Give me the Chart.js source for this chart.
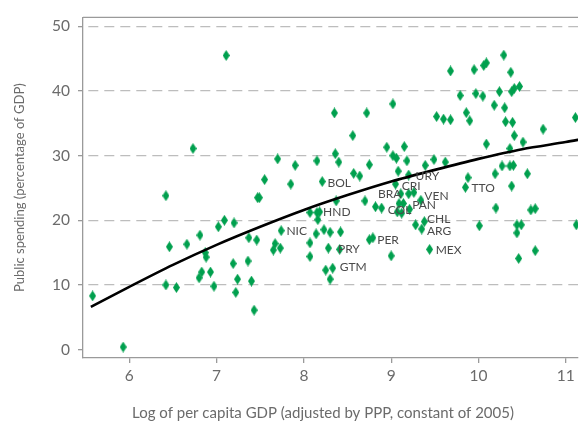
<!DOCTYPE html>
<html>
<head>
<meta charset="utf-8">
<script src="https://cdn.jsdelivr.net/npm/chart.js@4"></script>
<style>
  html, body { margin: 0; padding: 0; background: #fff; }
  #wrap { width: 584px; height: 425px; }
</style>
</head>
<body>
<div id="wrap"><canvas id="chart"></canvas></div>
<script>
// log of per capita GDP (x) and public spending % of GDP (y)
var gdpLog = [
    5.58, 5.93, 6.42, 6.46, 6.54, 6.66, 6.81, 6.80, 6.83, 6.87,
    6.88, 6.93, 6.97, 7.02, 7.09, 7.20, 7.19, 7.22, 7.24, 7.36,
    7.37, 7.40, 7.43, 7.46, 7.65, 7.67, 7.73, 7.74, 7.11, 6.73,
    6.42, 7.47, 7.49, 7.55, 7.70, 7.85, 7.90, 8.56, 8.15, 8.36,
    8.40, 8.75, 8.21, 8.57, 8.64, 8.37, 8.70, 8.82, 8.07, 8.15,
    8.18, 8.16, 8.14, 8.23, 8.30, 8.42, 8.07, 8.28, 8.41, 8.75,
    8.79, 8.07, 8.25, 8.33, 8.30, 8.89, 9.28, 9.35, 9.38, 9.44,
    10.01, 10.20, 10.44, 10.49, 10.44, 10.46, 10.65, 10.60, 10.65, 11.12,
    9.00, 8.95, 9.15, 9.02, 9.06, 9.18, 9.08, 9.20, 9.39, 9.49,
    9.62, 10.09, 9.88, 9.85, 9.05, 9.11, 9.20, 9.26, 9.34, 9.09,
    9.14, 9.07, 9.12, 9.21, 8.35, 8.72, 9.02, 9.52, 9.60, 9.68,
    9.86, 9.90, 9.79, 9.97, 10.05, 9.68, 9.95, 10.06, 10.09, 10.29,
    10.37, 10.24, 10.38, 10.41, 10.47, 10.18, 10.30, 10.31, 10.39, 10.41,
    10.51, 10.74, 11.11, 10.36, 10.27, 10.36, 10.40, 10.19, 10.38, 10.56
];
var spending = [
    8.3, 0.4, 10.0, 15.9, 9.6, 16.3, 17.7, 11.1, 12.0, 15.0,
    14.3, 12.0, 9.8, 19.0, 20.0, 19.6, 13.3, 8.85, 10.9, 13.7,
    17.3, 10.6, 6.1, 16.95, 15.4, 16.4, 15.7, 18.4, 45.5, 31.1,
    23.8, 23.5, 23.5, 26.3, 29.5, 25.6, 28.5, 33.1, 29.2, 30.3,
    29.0, 28.6, 26.0, 27.25, 26.85, 23.0, 23.0, 22.1, 21.2, 21.2,
    21.3, 20.1, 17.9, 18.55, 18.15, 18.2, 16.5, 15.7, 15.5, 17.0,
    17.3, 14.4, 12.3, 12.6, 10.9, 21.9, 19.3, 18.65, 19.8, 15.5,
    19.15, 21.9, 19.3, 19.3, 18.05, 14.1, 15.3, 21.6, 21.8, 19.3,
    14.5, 31.3, 31.4, 30.0, 29.6, 29.2, 27.6, 27.0, 28.5, 29.4,
    29.0, 31.8, 26.6, 25.1, 25.6, 24.1, 24.1, 24.3, 23.1, 22.6,
    22.6, 21.3, 21.1, 21.7, 36.6, 36.6, 38.0, 36.05, 35.65, 35.55,
    36.65, 35.4, 39.3, 39.6, 39.2, 43.1, 43.3, 43.95, 44.35, 45.55,
    42.9, 39.9, 39.9, 40.4, 40.7, 37.8, 37.4, 35.25, 35.15, 33.1,
    32.1, 34.1, 35.9, 31.1, 28.4, 28.4, 28.5, 27.2, 25.3, 27.2
];

// fitted curve
var curveX = [5.56, 6.0, 6.5, 7.0, 7.5, 8.0, 8.5, 9.0, 9.5, 10.0, 10.5, 11.0, 11.2];
var curveY = [6.6, 9.7, 13.1, 16.2, 19.0, 21.6, 23.9, 26.0, 27.8, 29.5, 31.0, 32.1, 32.6];

// country labels (data coordinates of each label)
var countryCodes = ["BOL", "HND", "NIC", "PRY", "GTM", "PER", "COL", "PAN", "BRA", "CRI", "URY", "VEN", "TTO", "CHL", "ARG", "MEX"];
var labelX = [8.27, 8.22, 7.80, 8.39, 8.41, 8.84, 8.96, 9.24, 8.85, 9.12, 9.28, 9.38, 9.92, 9.41, 9.41, 9.51];
var labelY = [25.7, 21.3, 18.3, 15.5, 12.7, 16.95, 21.5, 22.3, 24.1, 25.3, 26.85, 23.7, 24.95, 20.2, 18.3, 15.4];

var xTicks = [6, 7, 8, 9, 10, 11];
var yTicks = [0, 10, 20, 30, 40, 50];

var xTitle = "Log of per capita GDP (adjusted by PPP, constant of 2005)";
var yTitle = "Public spending (percentage of GDP)";

const fontFamily = "Lato";
const green = "#00a04e";
const axisGray = "#9a9a9a";
const textGray = "#6b6b6b";

function makeDiamond(w, h, color) {
    let c = document.createElement("canvas");
    c.width = w;
    c.height = h;
    let g = c.getContext("2d");
    g.fillStyle = color;
    g.beginPath();
    g.moveTo(w / 2, 0);
    g.lineTo(w, h / 2);
    g.lineTo(w / 2, h);
    g.lineTo(0, h / 2);
    g.closePath();
    g.fill();
    return c;
}

const diamond = makeDiamond(7, 11, green);

// frame top line, country labels and x title
const annotate = {
    id: "annotate",
    afterDatasetsDraw(chart) {
        const { ctx, chartArea, scales } = chart;
        ctx.save();
        ctx.strokeStyle = axisGray;
        ctx.lineWidth = 1.3;
        ctx.beginPath();
        ctx.moveTo(chartArea.left, chartArea.top);
        ctx.lineTo(chartArea.right, chartArea.top);
        ctx.stroke();

        ctx.fillStyle = "#4a4a4a";
        ctx.font = "12px " + fontFamily;
        ctx.textBaseline = "middle";
        ctx.textAlign = "left";
        countryCodes.forEach((code, i) => {
            ctx.fillText(code, scales.x.getPixelForValue(labelX[i]), scales.y.getPixelForValue(labelY[i]));
        });

        ctx.fillStyle = textGray;
        ctx.font = "15px " + fontFamily;
        ctx.textAlign = "center";
        ctx.fillText(xTitle, chartArea.left + 240, 413);
        ctx.restore();
    }
};

var chart = new Chart(document.getElementById("chart"), {
    type: "scatter",
    data: {
        datasets: [
            {
                type: "line",
                label: "Fit",
                data: curveX.map((v, i) => ({ x: v, y: curveY[i] })),
                borderColor: "#000",
                borderWidth: 2.6,
                pointRadius: 0,
                tension: 0.3,
                fill: false
            },
            {
                label: "Countries",
                data: gdpLog.map((v, i) => ({ x: v, y: spending[i] })),
                pointStyle: diamond,
                pointRadius: 5,
                backgroundColor: green,
                borderColor: green
            }
        ]
    },
    options: {
        responsive: true,
        maintainAspectRatio: false,
        animation: false,
        layout: { padding: { top: 9, right: 0, left: 0, bottom: 0 } },
        plugins: {
            legend: { display: false },
            tooltip: { enabled: false }
        },
        scales: {
            x: {
                type: "linear",
                min: 5.47,
                max: 11.14,
                afterBuildTicks: s => { s.ticks = xTicks.map(v => ({ value: v })); },
                afterFit: s => { s.height = 67; },
                ticks: {
                    color: textGray,
                    font: { family: fontFamily, size: 15.5 },
                    padding: 4
                },
                grid: {
                    drawOnChartArea: false,
                    tickLength: 5,
                    tickColor: axisGray,
                    lineWidth: 1.3
                },
                border: { color: axisGray, width: 1.3 }
            },
            y: {
                type: "linear",
                min: -1.3,
                max: 51.4,
                afterBuildTicks: s => { s.ticks = yTicks.map(v => ({ value: v })); },
                afterFit: s => { s.width = 83; },
                ticks: {
                    color: textGray,
                    font: { family: fontFamily, size: 15.5 },
                    padding: 8
                },
                grid: {
                    color: c => (c.tick && c.tick.value === 0) ? "rgba(0,0,0,0)" : "#bdbdbd",
                    tickColor: axisGray,
                    tickLength: 5,
                    lineWidth: 1.3
                },
                border: { color: axisGray, width: 1.3, dash: [10, 6], dashOffset: 11 },
                title: {
                    display: true,
                    text: yTitle,
                    color: textGray,
                    font: { family: fontFamily, size: 13 },
                    padding: { top: 12, bottom: 0 }
                }
            }
        }
    },
    plugins: [annotate]
});
</script>
</body>
</html>
